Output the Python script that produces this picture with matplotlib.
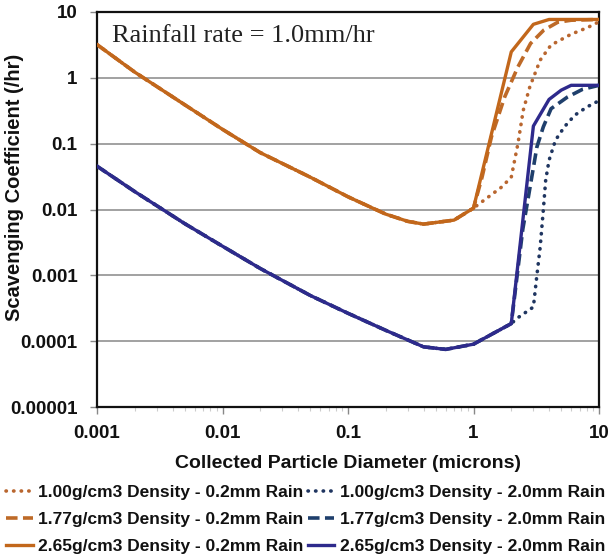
import matplotlib
matplotlib.use("Agg")
import matplotlib.pyplot as plt
from matplotlib.ticker import FixedLocator, LogLocator, NullFormatter

# ---- data ----
# shared low-diameter branch (all 0.2mm rain curves coincide up to 1 micron)
x_orange_low = [0.001, 0.002, 0.005, 0.01, 0.02, 0.05, 0.1, 0.2, 0.3, 0.4, 0.7, 1.0]
y_orange_low = [3.2, 1.22, 0.39, 0.165, 0.073, 0.031, 0.0156, 0.0085, 0.0066, 0.006, 0.0069, 0.0105]

# shared low-diameter branch (all 2.0mm rain curves coincide up to 2 microns)
x_blue_low = [0.001, 0.002, 0.005, 0.01, 0.02, 0.05, 0.1, 0.2, 0.4, 0.6, 1.0, 2.0]
y_blue_low = [0.0455, 0.0187, 0.0061, 0.00277, 0.00127, 0.000495, 0.000265, 0.000146, 0.000082, 0.000075, 0.00009, 0.000185]

# high-diameter tails for each series
x_o100 = [1.32, 1.68, 2.0, 2.26, 2.49, 2.81, 3.4, 4.14, 6.0, 8.1, 10]
y_o100 = [0.0156, 0.022, 0.031, 0.1, 0.32, 0.73, 1.86, 3.14, 4.6, 5.8, 7.1]
x_o177 = [1.17, 1.39, 1.77, 2.26, 2.85, 3.63, 4.7, 6.0, 10]
y_o177 = [0.031, 0.127, 0.51, 1.47, 3.33, 5.3, 7.0, 7.5, 7.7]
x_o265 = [2.0, 3.0, 4.0, 10]
y_o265 = [2.48, 6.5, 7.7, 7.7]

x_b100 = [2.28, 3.0, 3.19, 3.4, 3.6, 3.76, 4.0, 4.5, 5.3, 6.4, 8.0, 10]
y_b100 = [0.00023, 0.00033, 0.00095, 0.0027, 0.0098, 0.028, 0.056, 0.113, 0.18, 0.27, 0.36, 0.45]
x_b177 = [2.47, 2.76, 3.2, 3.6, 4.15, 5.6, 7.4, 10]
y_b177 = [0.005, 0.017, 0.089, 0.18, 0.34, 0.51, 0.67, 0.77]
x_b265 = [3.0, 4.0, 5.0, 6.0, 10]
y_b265 = [0.185, 0.47, 0.65, 0.77, 0.77]

labels = [
    "1.00g/cm3 Density - 0.2mm Rain",
    "1.77g/cm3 Density - 0.2mm Rain",
    "2.65g/cm3 Density - 0.2mm Rain",
    "1.00g/cm3 Density - 2.0mm Rain",
    "1.77g/cm3 Density - 2.0mm Rain",
    "2.65g/cm3 Density - 2.0mm Rain",
]
y_ticks = [0.00001, 0.0001, 0.001, 0.01, 0.1, 1, 10]
y_ticklabels = ["0.00001", "0.0001", "0.001", "0.01", "0.1", "1", "10"]
x_ticks = [0.001, 0.01, 0.1, 1, 10]
x_ticklabels = ["0.001", "0.01", "0.1", "1", "10"]

# ---- styling ----
plt.rcParams['font.family'] = ['Liberation Sans', 'DejaVu Sans']
c_or_solid = "#C2671B"
c_or_dash = "#BE6A28"
c_or_dot = "#B9662F"
c_bl_solid = "#2E2A8C"
c_bl_dash = "#1F3F6C"
c_bl_dot = "#1F3560"

dot = (0, (0.1, 2.0))
dash = (0, (3.2, 1.5))

fig = plt.figure(figsize=(6.09, 5.58), dpi=100)
ax = fig.add_axes([97/609, 1-407/558, (599-97)/609, (407-12)/558])
ax.set_xscale('log')
ax.set_yscale('log')

series = [
    (x_orange_low, y_orange_low, x_o100, y_o100, c_or_dot, dot, 2.6),
    (x_orange_low, y_orange_low, x_o177, y_o177, c_or_dash, dash, 2.6),
    (x_orange_low, y_orange_low, x_o265, y_o265, c_or_solid, '-', 2.4),
    (x_blue_low, y_blue_low, x_b100, y_b100, c_bl_dot, dot, 2.6),
    (x_blue_low, y_blue_low, x_b177, y_b177, c_bl_dash, dash, 2.6),
    (x_blue_low, y_blue_low, x_b265, y_b265, c_bl_solid, '-', 2.4),
]
handles = []
zorders = [3, 4, 5, 3, 4, 5]
for (xl, yl, xt, yt, col, ls, lw), lab, z in zip(series, labels, zorders):
    xs = list(xl) + list(xt)
    ys = list(yl) + list(yt)
    h, = ax.plot(xs, ys, color=col, linestyle=ls, linewidth=lw,
                 dash_capstyle='round' if ls == dot else 'butt',
                 solid_joinstyle='round', label=lab, zorder=z)
    handles.append(h)

ax.set_xlim(0.001, 10)
ax.set_ylim(0.00001, 10)
ax.yaxis.set_major_locator(FixedLocator(y_ticks))
ax.set_yticklabels(y_ticklabels)
ax.yaxis.set_minor_locator(FixedLocator([]))
ax.yaxis.set_minor_formatter(NullFormatter())
ax.xaxis.set_major_locator(FixedLocator(x_ticks))
ax.set_xticklabels(x_ticklabels)
ax.xaxis.set_minor_locator(LogLocator(base=10, subs=range(2, 10)))
ax.xaxis.set_minor_formatter(NullFormatter())

ax.grid(True, axis='y', which='major', color='#9a9a9a', linewidth=1.3, zorder=1)
ax.set_axisbelow(True)
for s in ax.spines.values():
    s.set_color('#111111')
    s.set_linewidth(1.6)

ax.tick_params(axis='both', which='major', direction='out', length=5, width=1,
               color='#888888', labelsize=13.5)
ax.tick_params(axis='x', which='major', pad=8)
ax.tick_params(axis='y', which='major', pad=9)
ax.tick_params(axis='x', which='minor', direction='out', length=3, width=0.8,
               color='#cccccc')
for t in ax.get_xticklabels() + ax.get_yticklabels():
    t.set_fontweight('bold')
    t.set_color('#111111')

ax.set_xlabel("Collected Particle Diameter (microns)", fontsize=14,
              fontweight='bold', labelpad=9, color='#111111')
ax.set_ylabel("Scavenging Coefficient (/hr)", fontsize=14.5,
              fontweight='bold', color='#111111')
ax.yaxis.set_label_coords(-0.145, 0.557)

ax.text(0.03, 0.968, "Rainfall rate = 1.0mm/hr", transform=ax.transAxes,
        ha='left', va='top', fontsize=19, family='Liberation Serif',
        color='#222222')

leg = fig.legend(handles=handles, labels=labels, ncol=2, loc='upper left',
                 bbox_to_anchor=(4/609, 1-483/558), frameon=False,
                 prop={'weight': 'bold', 'size': 12.5}, handlelength=1.55,
                 handletextpad=0.3, columnspacing=0.25, labelspacing=0.68,
                 borderaxespad=0, borderpad=0.1)
for t in leg.get_texts():
    t.set_color('#111111')

fig.savefig("out.png", dpi=100)
